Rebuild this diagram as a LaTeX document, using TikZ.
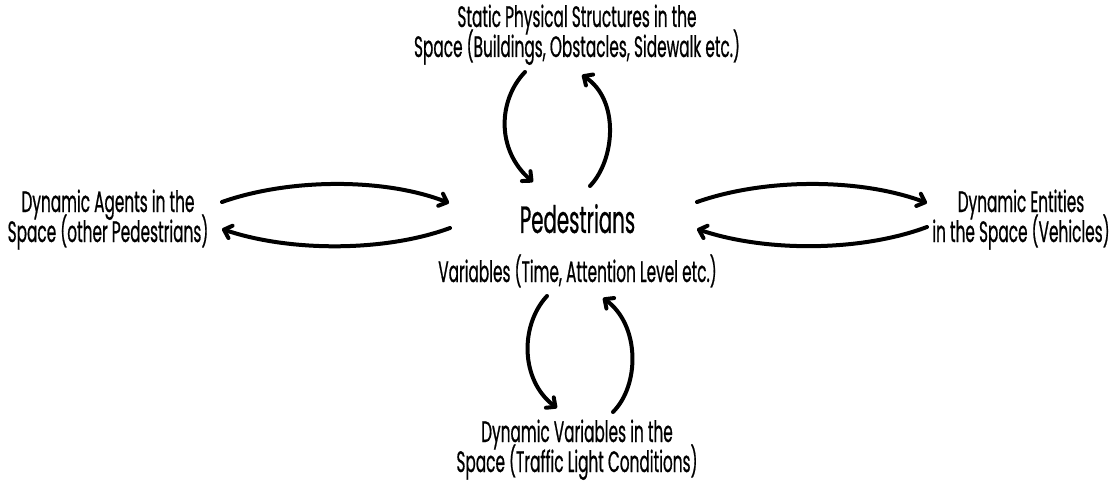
\documentclass[tikz,border=0pt]{standalone}
\usepackage{fontspec}
\setmainfont{Poppins}[FakeStretch=0.52,FakeBold=0.6]
\usetikzlibrary{arrows.meta}
% keep a fixed distance between the baselines of wrapped labels
\newcommand\tightlines{\lineskiplimit=-100pt\relax\lineskip=0pt\relax}
\begin{document}
\begin{tikzpicture}[x=1pt,y=1pt,
  txt/.style={font=\fontsize{29.5}{30}\selectfont\tightlines,
    align=center, inner sep=0pt, anchor=base},
  bigtxt/.style={font=\fontsize{38}{44}\selectfont, inner sep=0pt, anchor=base},
  flow/.style={line width=4pt, line cap=round, line join=round,
    -{Straight Barb[length=7pt,width=13pt,line cap=round,line join=round]}}]
\useasboundingbox (0,0) rectangle (1113,-481);

% labels (anchored on the baseline of their last line)
\node[txt] (static) at (577,-57) {Static Physical Structures in the\\Space (Buildings, Obstacles, Sidewalk etc.)};
\node[txt] (agents) at (108,-242) {Dynamic Agents in the\\Space (other Pedestrians)};
\node[txt] (entities) at (1021,-242) {Dynamic Entities\\in the Space (Vehicles)};
\node[bigtxt] (ped) at (577.5,-233) {Pedestrians};
\node[txt] (vars) at (577.5,-282) {Variables (Time, Attention Level etc.)};
\node[txt] (signals) at (577,-472) {Dynamic Variables in the\\Space (Traffic Light Conditions)};

% arrow end points
\coordinate (sA) at (525,-72);  \coordinate (sB) at (533,-182);
\coordinate (sC) at (590,-186); \coordinate (sD) at (582,-75);
\coordinate (aA) at (222,-202); \coordinate (aB) at (449,-203);
\coordinate (aC) at (450,-228); \coordinate (aD) at (222,-229);
\coordinate (eA) at (697,-202); \coordinate (eB) at (927,-203);
\coordinate (eC) at (927,-227); \coordinate (eD) at (697,-229);
\coordinate (vA) at (547,-296); \coordinate (vB) at (557,-408);
\coordinate (vC) at (613,-412); \coordinate (vD) at (603,-298);

% static structures <-> pedestrians
\draw[flow] (sA) .. controls (498,-100) and (496,-150) .. (sB);
\draw[flow] (sC) .. controls (615,-160) and (620,-100) .. (sD);
% other pedestrians <-> pedestrians
\draw[flow] (aA) .. controls (290,-178) and (385,-178) .. (aB);
\draw[flow] (aC) .. controls (385,-252) and (290,-252) .. (aD);
% vehicles <-> pedestrians
\draw[flow] (eA) .. controls (765,-178) and (860,-178) .. (eB);
\draw[flow] (eC) .. controls (860,-252) and (765,-252) .. (eD);
% traffic lights <-> pedestrians
\draw[flow] (vA) .. controls (520,-325) and (520,-380) .. (vB);
\draw[flow] (vC) .. controls (640,-385) and (640,-325) .. (vD);
\end{tikzpicture}
\end{document}
